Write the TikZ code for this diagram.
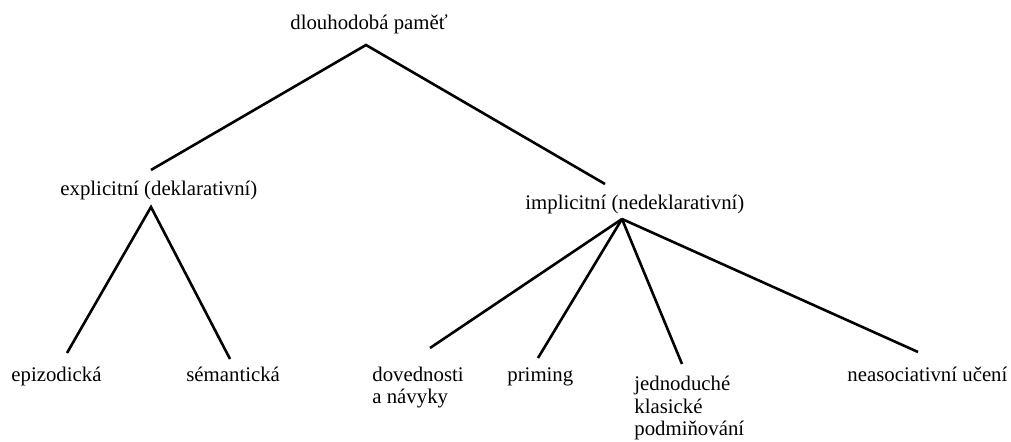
\documentclass[tikz,border=0pt]{standalone}
\usepackage{fontspec}
\setmainfont{Liberation Serif}
\usepackage{tikz}
\usetikzlibrary{positioning}

\begin{document}
\begin{tikzpicture}[
    x=0.5pt, y=-0.5pt,
    term/.style={inner sep=0pt, anchor=base west, align=left, font=\fontsize{10.4}{11.3}\selectfont},
    branch/.style={line width=1.3pt}
]
\useasboundingbox (0,0) rectangle (1011,442);

% levels (multi-line terms sit on their last line)
\node[term] (root) at (290,30) {dlouhodobá paměť};
\node[term] (expl) at (60,196) {explicitní (deklarativní)};
\node[term] (impl) at (525,210) {implicitní (nedeklarativní)};

\node[term] (epi) at (11,382) {epizodická};
\node[term] (sem) at (186,382) {sémantická};
\node[term] (skill) at (372,404) {dovednosti\\a návyky};
\node[term] (prim) at (507,382) {priming};
\node[term] (cond) at (634,436) {jednoduché\\klasické\\podmiňování};
\node[term] (nonassoc) at (847,382) {neasociativní učení};

% fork points
\coordinate (rootfork) at ([shift={(76,15)}]root.base west);
\coordinate (explfork) at ([shift={(91,11)}]expl.base west);
\coordinate (implfork) at ([shift={(97,9)}]impl.base west);

\draw[branch] ([shift={(91,-26)}]expl.base west) -- (rootfork) -- ([shift={(80,-26)}]impl.base west);

\draw[branch] ([shift={(56,-29)}]epi.base west) -- (explfork) -- ([shift={(44,-23)}]sem.base west);

\draw[branch] (implfork) -- ([shift={(58,-56)}]skill.base west);
\draw[branch] (implfork) -- ([shift={(31,-24)}]prim.base west);
\draw[branch] (implfork) -- ([shift={(48,-72)}]cond.base west);
\draw[branch] (implfork) -- ([shift={(71,-30)}]nonassoc.base west);

\end{tikzpicture}
\end{document}
